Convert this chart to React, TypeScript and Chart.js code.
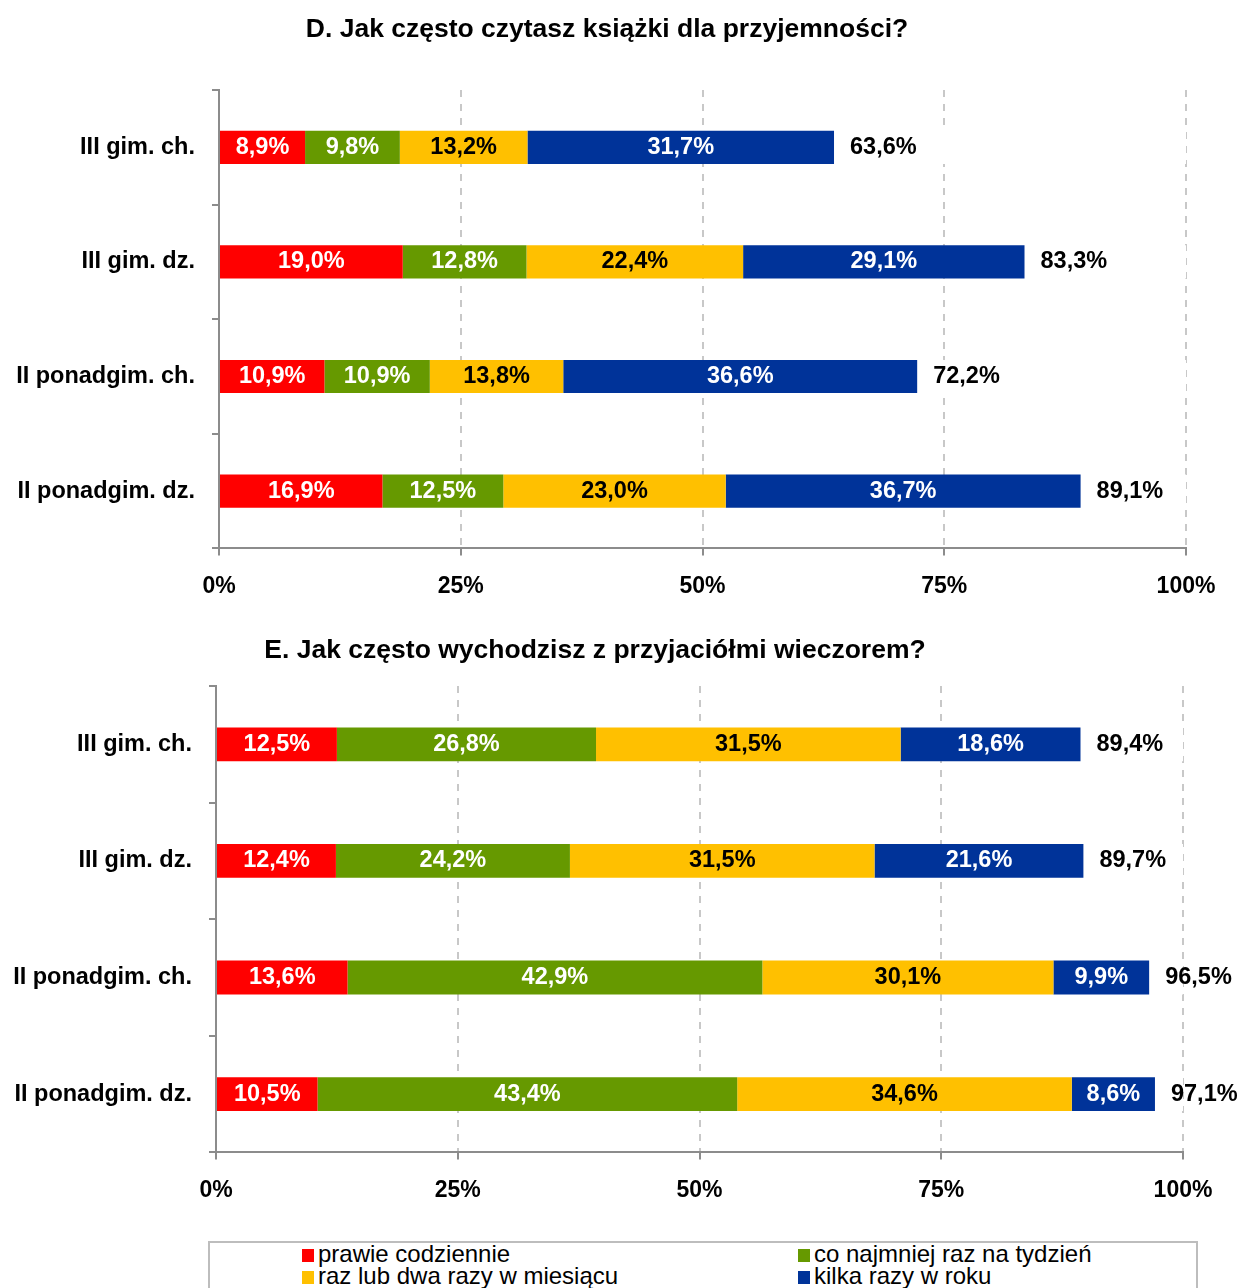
import React, { useEffect, useRef } from "react";
import { Chart, registerables } from "chart.js";
Chart.register(...registerables);

const categories = ["III gim. ch.", "III gim. dz.", "II ponadgim. ch.", "II ponadgim. dz."];
const seriesNames = ["prawie codziennie", "co najmniej raz na tydzień", "raz lub dwa razy w miesiącu", "kilka razy w roku"];
const seriesColors = ["#FF0000", "#669900", "#FFC000", "#003399"];
const seriesTextColors = ["#ffffff", "#ffffff", "#000000", "#ffffff"];

const titleD = "D. Jak często czytasz książki dla przyjemności?";
const dDaily = [8.9, 19.0, 10.9, 16.9];
const dWeekly = [9.8, 12.8, 10.9, 12.5];
const dMonthly = [13.2, 22.4, 13.8, 23.0];
const dYearly = [31.7, 29.1, 36.6, 36.7];
const dTotal = [63.6, 83.3, 72.2, 89.1];

const titleE = "E. Jak często wychodzisz z przyjaciółmi wieczorem?";
const eDaily = [12.5, 12.4, 13.6, 10.5];
const eWeekly = [26.8, 24.2, 42.9, 43.4];
const eMonthly = [31.5, 31.5, 30.1, 34.6];
const eYearly = [18.6, 21.6, 9.9, 8.6];
const eTotal = [89.4, 89.7, 96.5, 97.1];

const xMin = 0;
const xMax = 100;
const xStep = 25;

const FONT = '"Liberation Sans", Arial, sans-serif';
const fmt = (v: number) => v.toFixed(1).replace(".", ",") + "%";

const labelPlugin = {
  id: "segLabels",
  afterDatasetsDraw(chart: any) {
    const ctx = chart.ctx;
    chart.data.datasets.forEach((ds: any, di: number) => {
      const meta = chart.getDatasetMeta(di);
      meta.data.forEach((bar: any, i: number) => {
        const { x, y, base } = bar.getProps(["x", "y", "base"], true);
        ctx.save();
        ctx.font = `bold 23.5px ${FONT}`;
        ctx.textBaseline = "middle";
        if (ds.totals) {
          ctx.fillStyle = "#000";
          ctx.textAlign = "left";
          ctx.fillText(fmt(ds.totals[i]), base + 16, y);
        } else {
          ctx.fillStyle = ds.textColor;
          ctx.textAlign = "center";
          ctx.fillText(fmt(ds.data[i]), (x + base) / 2, y);
        }
        ctx.restore();
      });
    });
  },
};

const titlePlugin = {
  id: "posTitle",
  afterDraw(chart: any, _args: any, opts: any) {
    const ctx = chart.ctx;
    ctx.save();
    ctx.font = `bold ${opts.size}px ${FONT}`;
    ctx.fillStyle = "#000";
    ctx.textAlign = "center";
    ctx.textBaseline = "middle";
    ctx.fillText(opts.text, opts.x, opts.y);
    ctx.restore();
  },
};

type Props = {
  title: string;
  titleX: number;
  titleY: number;
  series: number[][];
  totals: number[];
  axisLeft: number;
  padTop: number;
  padRight: number;
  padBottom: number;
  height: number;
};

function StackChart(p: Props) {
  const ref = useRef<HTMLCanvasElement | null>(null);
  useEffect(() => {
    if (!ref.current) return;
    const datasets: any[] = p.series.map((d, k) => ({
      label: seriesNames[k],
      data: d,
      backgroundColor: seriesColors[k],
      textColor: seriesTextColors[k],
      borderWidth: 0,
      barPercentage: 0.29,
      categoryPercentage: 1,
    }));
    datasets.push({
      label: "rest",
      data: p.totals.map((t) => xMax - t),
      totals: p.totals,
      backgroundColor: "#ffffff",
      borderWidth: 0,
      barPercentage: 0.29,
      categoryPercentage: 1,
    });
    const chart = new Chart(ref.current, {
      type: "bar",
      data: { labels: categories, datasets },
      options: {
        indexAxis: "y",
        animation: false,
        responsive: false,
        layout: { padding: { top: p.padTop, right: p.padRight, bottom: p.padBottom, left: 0 } },
        plugins: {
          legend: { display: false },
          tooltip: { enabled: false },
          title: { display: false },
          posTitle: { text: p.title, x: p.titleX, y: p.titleY, size: 26.5 },
        } as any,
        scales: {
          x: {
            stacked: true,
            min: xMin,
            max: xMax,
            ticks: {
              stepSize: xStep,
              callback: (v: any) => v + "%",
              color: "#000",
              font: { family: FONT, size: 23, weight: "bold" },
              padding: 17,
              maxRotation: 0,
            },
            grid: {
              color: (c: any) => (c.index === 0 ? "rgba(0,0,0,0)" : "#c8c8c8"),
              lineWidth: 2,
              tickColor: "#8c8c8c",
              tickLength: 7,
              tickWidth: 2,
            },
            border: { color: "#8c8c8c", width: 2, dash: [7, 7] },
          },
          y: {
            stacked: true,
            offset: true,
            afterFit: (s: any) => {
              s.width = p.axisLeft;
            },
            ticks: {
              color: "#000",
              font: { family: FONT, size: 23.5, weight: "bold" },
              padding: 17,
            },
            grid: {
              offset: true,
              drawOnChartArea: false,
              color: "#8c8c8c",
              lineWidth: 2,
              tickLength: 7,
            },
            border: { color: "#8c8c8c", width: 2 },
          },
        },
      } as any,
      plugins: [labelPlugin, titlePlugin],
    });
    return () => chart.destroy();
  }, []);
  return <canvas ref={ref} width={1237} height={p.height} style={{ display: "block" }} />;
}

export default function App() {
  return (
    <div style={{ position: "absolute", left: 0, top: 0, width: 1237, height: 1288, overflow: "hidden", background: "#fff" }}>
      <StackChart
        title={titleD}
        titleX={607}
        titleY={30}
        series={[dDaily, dWeekly, dMonthly, dYearly]}
        totals={dTotal}
        axisLeft={219}
        padTop={90}
        padRight={51}
        padBottom={0}
        height={617}
      />
      <StackChart
        title={titleE}
        titleX={595}
        titleY={34}
        series={[eDaily, eWeekly, eMonthly, eYearly]}
        totals={eTotal}
        axisLeft={216}
        padTop={69}
        padRight={54}
        padBottom={11}
        height={615}
      />
      <div
        style={{
          position: "absolute",
          left: 208,
          top: 1241,
          width: 986,
          height: 80,
          border: "2px solid #bdbdbd",
          fontFamily: FONT,
          fontSize: 24,
        }}
      >
        {seriesNames.map((name, i) => (
          <div
            key={name}
            style={{
              position: "absolute",
              left: (i % 2 === 0 ? 302 : 798) - 210,
              top: (i < 2 ? 1254 : 1276) - 1243 - 11,
              height: 22,
              lineHeight: "22px",
              whiteSpace: "nowrap",
              display: "flex",
              alignItems: "center",
            }}
          >
            <span style={{ display: "inline-block", width: 12, height: 13, background: seriesColors[i], marginRight: 4, marginTop: 3 }} />
            <span>{name}</span>
          </div>
        ))}
      </div>
    </div>
  );
}
